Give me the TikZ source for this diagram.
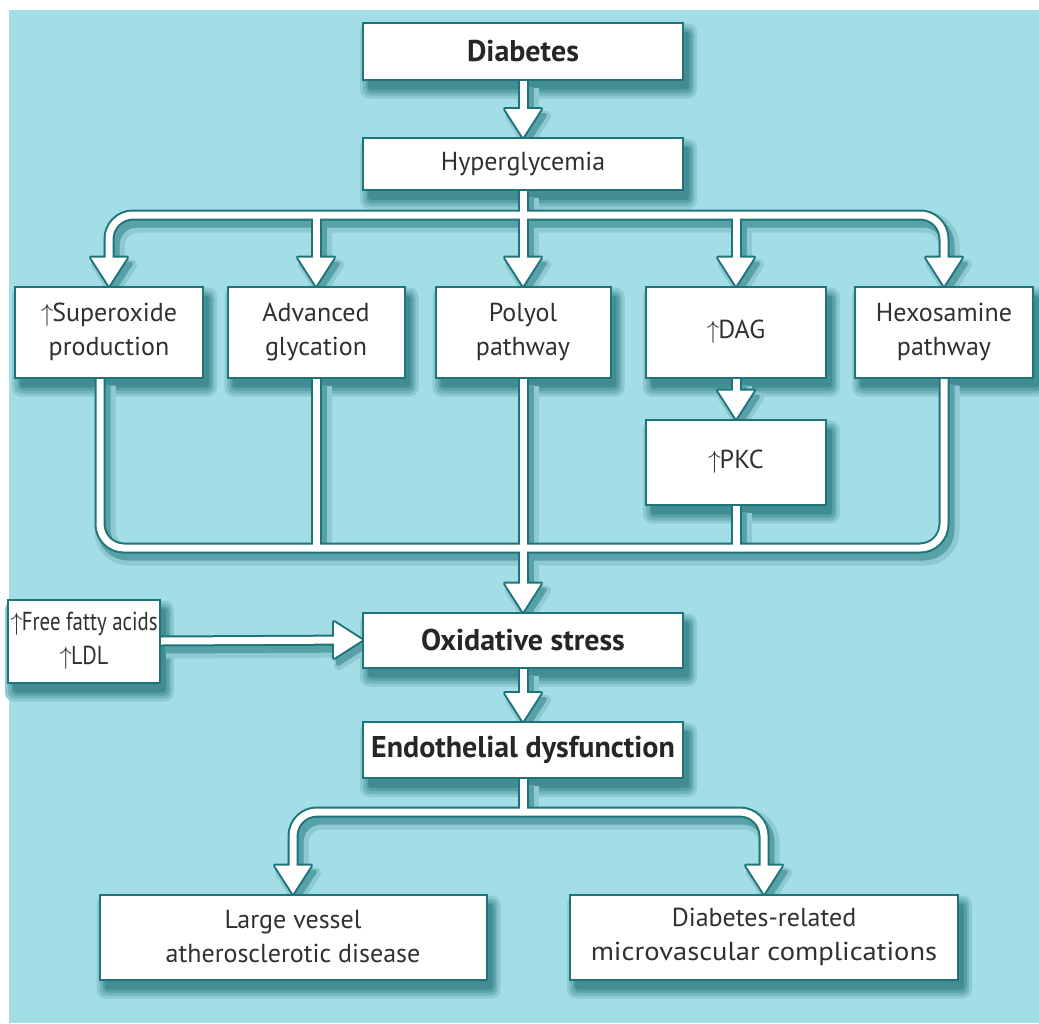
\documentclass[tikz,border=0pt]{standalone}
\usepackage{fontspec}
\setmainfont{PT Sans}
\usetikzlibrary{calc}
\definecolor{bgc}{HTML}{A3DDE5}
\definecolor{dk}{HTML}{1F7479}
\definecolor{txt}{HTML}{303030}
\definecolor{shA}{HTML}{8CC9D0}
\definecolor{shB}{HTML}{72B5BC}
\definecolor{shC}{HTML}{58A1A8}
\definecolor{shD}{HTML}{418D93}
\pgfdeclarelayer{front}
\pgfsetlayers{main,front}
\newcommand\myup{$\uparrow$\kern-1pt}
\newcommand\tipdown[2]{\path[#1] ($(#2)+(-18,-28)$) -- (#2) -- ($(#2)+(18,-28)$) -- cycle;}
\newcommand\tipright[2]{\path[#1] ($(#2)+(-28,-18)$) -- (#2) -- ($(#2)+(-28,18)$) -- cycle;}
\newcommand\boxshadow[1]{%
  \path[fill=shA, rounded corners=9pt]
    ($(#1.north west)+(-2,2)$) rectangle ($(#1.south east)+(13,18)$);
  \path[fill=shB, rounded corners=7pt]
    ($(#1.north west)+(1,5)$) rectangle ($(#1.south east)+(10,15)$);
  \path[fill=shC, rounded corners=5pt]
    ($(#1.north west)+(4,8)$) rectangle ($(#1.south east)+(8,12)$);
  \path[fill=shD, rounded corners=3pt]
    ($(#1.north west)+(6,10)$) rectangle ($(#1.south east)+(5,9)$);}
\newcommand\allpipes[2]{%
  \draw[#1, shorten >=20pt] (diab.south) -- (hyper.north);
  \draw[#1, shorten >=20pt] (hyper.south) -- (poly.north);
  \draw[#1, shorten >=20pt] (bt) -| (super.north);
  \draw[#1, shorten >=20pt] (bt) -| (hexo.north);
  \draw[#1, shorten >=20pt] (bt -| adv.north) -- (adv.north);
  \draw[#1, shorten >=20pt] (bt -| dag.north) -- (dag.north);
  \draw[#1, shorten >=20pt] (dag.south) -- (pkc.north);
  \draw[#1] (sbot) |- (bb);
  \draw[#1] (hexo.south) |- (bb);
  \draw[#1] (adv.south) -- (adv.south |- bb);
  \draw[#1] (pkc.south) -- (pkc.south |- bb);
  \draw[#1, shorten >=20pt] (poly.south) -- (oxi.north);
  \draw[#1, shorten >=20pt] (ffa.east) -- (oxi.west);
  \draw[#1, shorten >=20pt] (oxi.south) -- (endo.north);
  \draw[#1] (endo.south) -- (be);
  \draw[#1, shorten >=20pt] (be) -| (large.north);
  \draw[#1, shorten >=20pt] (be) -| (micro.north);
  \tipdown{#2}{hyper.north}
  \tipdown{#2}{poly.north}
  \tipdown{#2}{super.north}
  \tipdown{#2}{hexo.north}
  \tipdown{#2}{adv.north}
  \tipdown{#2}{dag.north}
  \tipdown{#2}{pkc.north}
  \tipdown{#2}{oxi.north}
  \tipright{#2}{oxi.west}
  \tipdown{#2}{endo.north}
  \tipdown{#2}{large.north}
  \tipdown{#2}{micro.north}
}
\tikzset{
  box/.style={draw=dk, line width=2pt, fill=white, inner sep=0pt, align=center,
    text=txt, font=\fontsize{26}{34}\selectfont},
  boldbox/.style={box, text=black!85, font=\fontsize{30}{34}\selectfont\bfseries},
  shpassA/.style={draw=shA, line width=21pt, rounded corners=24pt,
    transform canvas={xshift=5pt,yshift=-7pt}},
  shpassB/.style={draw=shC, line width=13pt, rounded corners=24pt,
    transform canvas={xshift=4pt,yshift=-6pt}},
  dkpass/.style={draw=dk, line width=11pt, rounded corners=24pt},
  whpass/.style={draw=white, line width=7pt, rounded corners=24pt},
  shtipA/.style={fill=shA, draw=shA, line width=10pt, line join=round,
    transform canvas={xshift=5pt,yshift=-7pt}},
  shtipB/.style={fill=shC, draw=shC, line width=4pt, line join=round,
    transform canvas={xshift=4pt,yshift=-6pt}},
  dktip/.style={fill=dk, draw=dk, line width=4pt, line join=round},
  whtip/.style={fill=white, draw=none}
}
\begin{document}
\begin{tikzpicture}[x=1pt,y=-1pt]
\useasboundingbox (0,0) rectangle (1039,1023);
\fill[bgc] (9,10) rectangle (1039,1023);
% boxes
\begin{pgfonlayer}{front}
\node[boldbox, minimum width=320, minimum height=57] (diab) at (523,51) {Diabetes};
\node[box, minimum width=320, minimum height=52] (hyper) at (523,164) {Hyperglycemia};
\node[box, minimum width=188, minimum height=91] (super) at (109,332) {\myup Superoxide\\production};
\node[box, minimum width=177, minimum height=91] (adv) at (316,332) {Advanced\\glycation};
\node[box, minimum width=175, minimum height=91] (poly) at (523,332) {Polyol\\pathway};
\node[box, minimum width=180, minimum height=91] (dag) at (736,332) {\myup DAG};
\node[box, minimum width=178, minimum height=91] (hexo) at (944,332) {Hexosamine\\pathway};
\node[box, minimum width=180, minimum height=85] (pkc) at (736,462) {\myup PKC};
\node[boldbox, minimum width=320, minimum height=55] (oxi) at (523,640) {Oxidative stress};
\node[box, minimum width=152, minimum height=83] (ffa) at (84,641)
  {\myup\scalebox{0.8}[1]{Free fatty acids}\\\myup\scalebox{0.85}[1]{LDL}};
\node[boldbox, minimum width=320, minimum height=56] (endo) at (523,750) {Endothelial dysfunction};
\node[box, minimum width=387, minimum height=85] (large) at (293,937) {Large vessel\\atherosclerotic disease};
\node[box, minimum width=388, minimum height=85] (micro) at (764,937)
  {Diabetes-related\\\scalebox{1.1}[1]{microvascular complications}};
\end{pgfonlayer}
% junctions
\coordinate (bt) at (523,215);
\coordinate (bb) at (523,548);
\coordinate (be) at (523,812);
\coordinate (sbot) at ($(super.south)+(-9,0)$);
% box shadows
\boxshadow{diab}\boxshadow{hyper}\boxshadow{super}\boxshadow{adv}\boxshadow{poly}
\boxshadow{dag}\boxshadow{hexo}\boxshadow{pkc}\boxshadow{oxi}\boxshadow{ffa}
\boxshadow{endo}\boxshadow{large}\boxshadow{micro}
% connectors
\allpipes{shpassA}{shtipA}
\allpipes{shpassB}{shtipB}
\allpipes{dkpass}{dktip}
\allpipes{whpass}{whtip}
\end{tikzpicture}
\end{document}
